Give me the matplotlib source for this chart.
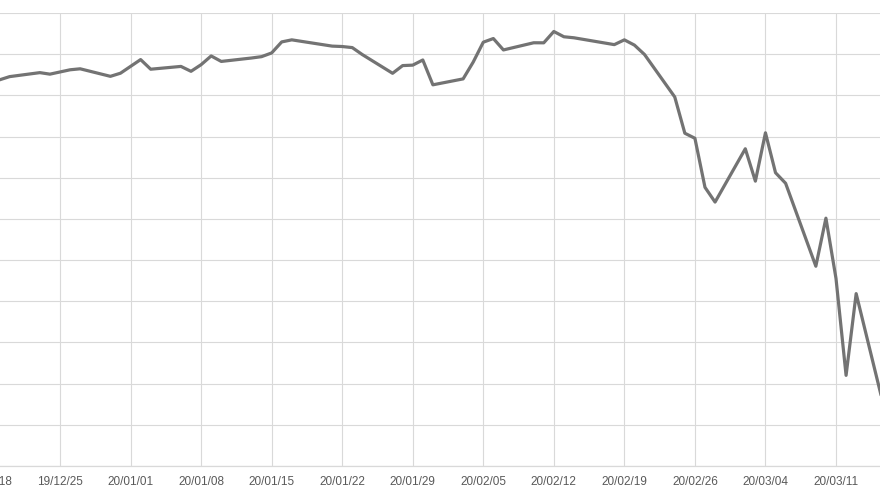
import matplotlib
matplotlib.use("Agg")
import matplotlib.pyplot as plt
import matplotlib.dates as mdates
import numpy as np
import datetime as dt

# Trading days (weekends/holidays skipped) and closing values
dates = [
    "2019-12-16", "2019-12-17", "2019-12-18", "2019-12-19", "2019-12-20",
    "2019-12-23", "2019-12-24", "2019-12-26", "2019-12-27", "2019-12-30",
    "2019-12-31", "2020-01-02", "2020-01-03", "2020-01-06", "2020-01-07",
    "2020-01-08", "2020-01-09", "2020-01-10", "2020-01-13", "2020-01-14",
    "2020-01-15", "2020-01-16", "2020-01-17", "2020-01-21", "2020-01-22",
    "2020-01-23", "2020-01-24", "2020-01-27", "2020-01-28", "2020-01-29",
    "2020-01-30", "2020-01-31", "2020-02-03", "2020-02-04", "2020-02-05",
    "2020-02-06", "2020-02-07", "2020-02-10", "2020-02-11", "2020-02-12",
    "2020-02-13", "2020-02-14", "2020-02-18", "2020-02-19", "2020-02-20",
    "2020-02-21", "2020-02-24", "2020-02-25", "2020-02-26", "2020-02-27",
    "2020-02-28", "2020-03-02", "2020-03-03", "2020-03-04", "2020-03-05",
    "2020-03-06", "2020-03-09", "2020-03-10", "2020-03-11", "2020-03-12",
    "2020-03-13", "2020-03-16",
]
values = [
    28236, 28267, 28239, 28377, 28455,
    28552, 28515, 28621, 28645, 28462,
    28538, 28869, 28635, 28703, 28584,
    28745, 28957, 28824, 28907, 28940,
    29030, 29298, 29348, 29196, 29186,
    29160, 28990, 28536, 28723, 28734,
    28859, 28256, 28400, 28808, 29291,
    29380, 29103, 29277, 29276, 29551,
    29423, 29398, 29232, 29348, 29220,
    28992, 27961, 27081, 26958, 25767,
    25409, 26703, 25917, 27091, 26121,
    25865, 23851, 25018, 23553, 21201,
    23186, 20189,
]
y_min, y_max, y_step = 19000, 30000, 1000
first_tick = "2019-12-18"

x = [dt.datetime.strptime(d, "%Y-%m-%d") for d in dates]

W, H = 880, 495
fig = plt.figure(figsize=(W / 100, H / 100), dpi=100)
fig.patch.set_facecolor("white")

# pixel geometry
px_per_day = 776 / 77.0
left_px = -50
ax = fig.add_axes([left_px / W, 29 / H, (W - left_px) / W, 453 / H])

ref = mdates.date2num(dt.datetime(2019, 12, 25))
x0 = ref - (60 - left_px) / px_per_day
x1 = ref + (880 - 60) / px_per_day
ax.set_xlim(x0, x1)
ax.set_ylim(y_min, y_max)

ax.plot(x, values, color="#737373", lw=2.3, solid_joinstyle="round",
        solid_capstyle="round", zorder=3)

t0 = mdates.date2num(dt.datetime.strptime(first_tick, "%Y-%m-%d"))
xticks = np.arange(t0, x1 + 0.01, 7)
ax.set_xticks(xticks)
ax.xaxis.set_major_formatter(mdates.DateFormatter("%y/%m/%d"))
ax.set_yticks(np.arange(y_min, y_max + 1, y_step))
ax.set_yticklabels([])

ax.grid(True, color="#d9d9d9", lw=0.8, zorder=0)
ax.set_axisbelow(True)
for s in ["top", "left", "right"]:
    ax.spines[s].set_visible(False)
ax.spines["bottom"].set_color("#d9d9d9")
ax.spines["bottom"].set_linewidth(0.9)

ax.tick_params(axis="x", length=0, pad=7.5, labelsize=8.5, labelcolor="#595959")
ax.tick_params(axis="y", length=0)
for lab in ax.get_xticklabels():
    lab.set_fontfamily("Liberation Sans")

fig.savefig("out.png", dpi=100, facecolor="white")
